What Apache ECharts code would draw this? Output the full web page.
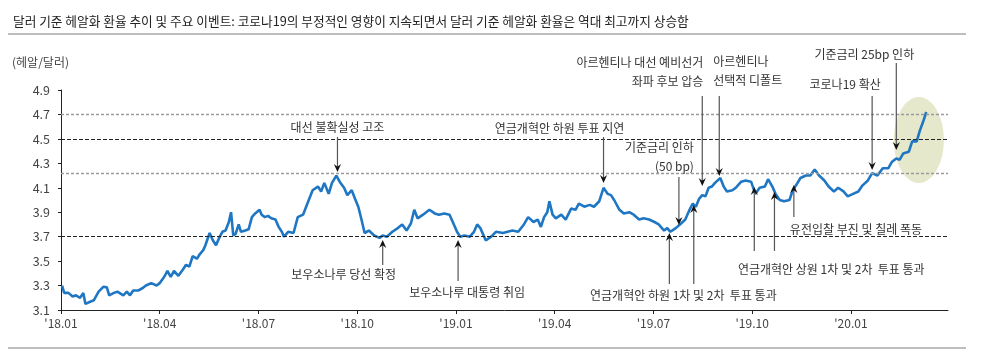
<!DOCTYPE html>
<html><head><meta charset="utf-8">
<script src="https://cdn.jsdelivr.net/npm/echarts@6/dist/echarts.min.js"></script>
<style>html,body{margin:0;padding:0;background:#fff}#c{width:1000px;height:356px}</style>
</head><body><div id="c"></div>
<script>
// ---- data ----
const titleText = '달러 기준 헤알화 환율 추이 및 주요 이벤트: 코로나19의 부정적인 영향이 지속되면서 달러 기준 헤알화 환율은 역대 최고까지 상승함';
const unitText = '(헤알/달러)';
const xTickLabels = ["'18.01","'18.04","'18.07","'18.10","'19.01","'19.04","'19.07","'19.10","'20.01"];
const xTickDates = ['2018-01-01','2018-04-01','2018-07-01','2018-10-01','2019-01-01','2019-04-01','2019-07-01','2019-10-01','2020-01-01'];
const dates = ['2018-01-02','2018-01-04','2018-01-08','2018-01-12','2018-01-15','2018-01-19','2018-01-22','2018-01-24','2018-01-29','2018-02-01','2018-02-05','2018-02-09','2018-02-12','2018-02-14','2018-02-18','2018-02-21','2018-02-26','2018-03-01','2018-03-04','2018-03-07','2018-03-12','2018-03-16','2018-03-19','2018-03-24','2018-03-29','2018-04-01','2018-04-05','2018-04-08','2018-04-11','2018-04-14','2018-04-18','2018-04-22','2018-04-25','2018-04-28','2018-05-01','2018-05-05','2018-05-08','2018-05-11','2018-05-13','2018-05-17','2018-05-20','2018-05-23','2018-05-26','2018-05-29','2018-06-01','2018-06-04','2018-06-06','2018-06-08','2018-06-10','2018-06-13','2018-06-15','2018-06-19','2018-06-22','2018-06-25','2018-06-28','2018-07-02','2018-07-04','2018-07-07','2018-07-10','2018-07-13','2018-07-17','2018-07-20','2018-07-23','2018-07-25','2018-07-29','2018-08-03','2018-08-07','2018-08-12','2018-08-16','2018-08-21','2018-08-26','2018-08-29','2018-09-01','2018-09-05','2018-09-08','2018-09-12','2018-09-15','2018-09-19','2018-09-22','2018-09-26','2018-09-29','2018-10-02','2018-10-05','2018-10-08','2018-10-12','2018-10-17','2018-10-22','2018-10-25','2018-10-29','2018-11-03','2018-11-08','2018-11-12','2018-11-16','2018-11-20','2018-11-23','2018-11-26','2018-12-01','2018-12-07','2018-12-12','2018-12-16','2018-12-21','2018-12-26','2018-12-29','2019-01-02','2019-01-05','2019-01-09','2019-01-14','2019-01-18','2019-01-21','2019-01-24','2019-01-29','2019-02-03','2019-02-07','2019-02-13','2019-02-21','2019-02-26','2019-03-03','2019-03-07','2019-03-12','2019-03-16','2019-03-19','2019-03-22','2019-03-25','2019-03-27','2019-03-30','2019-04-02','2019-04-07','2019-04-11','2019-04-16','2019-04-20','2019-04-23','2019-04-28','2019-05-03','2019-05-07','2019-05-12','2019-05-16','2019-05-20','2019-05-23','2019-05-26','2019-05-31','2019-06-04','2019-06-09','2019-06-13','2019-06-18','2019-06-22','2019-06-27','2019-07-02','2019-07-06','2019-07-11','2019-07-14','2019-07-17','2019-07-22','2019-07-26','2019-07-31','2019-08-04','2019-08-07','2019-08-10','2019-08-13','2019-08-16','2019-08-19','2019-08-22','2019-08-25','2019-08-28','2019-09-02','2019-09-05','2019-09-08','2019-09-13','2019-09-16','2019-09-21','2019-09-25','2019-09-30','2019-10-04','2019-10-08','2019-10-13','2019-10-16','2019-10-20','2019-10-23','2019-10-27','2019-10-31','2019-11-05','2019-11-08','2019-11-11','2019-11-15','2019-11-20','2019-11-24','2019-11-28','2019-12-02','2019-12-07','2019-12-11','2019-12-16','2019-12-20','2019-12-25','2019-12-29','2020-01-03','2020-01-08','2020-01-12','2020-01-17','2020-01-21','2020-01-26','2020-01-31','2020-02-05','2020-02-08','2020-02-12','2020-02-15','2020-02-18','2020-02-23','2020-02-26','2020-03-01','2020-03-04','2020-03-07','2020-03-10'];
const rates = [3.30,3.24,3.24,3.21,3.22,3.20,3.24,3.15,3.17,3.18,3.25,3.29,3.285,3.22,3.24,3.25,3.22,3.25,3.22,3.26,3.26,3.28,3.30,3.32,3.30,3.32,3.37,3.42,3.37,3.42,3.38,3.43,3.47,3.455,3.54,3.52,3.56,3.59,3.63,3.73,3.67,3.63,3.69,3.74,3.75,3.82,3.90,3.71,3.72,3.80,3.74,3.75,3.76,3.86,3.89,3.92,3.88,3.86,3.87,3.85,3.84,3.78,3.74,3.70,3.74,3.73,3.86,3.88,3.97,4.08,4.11,4.07,4.14,4.05,4.14,4.20,4.15,4.10,4.04,4.08,4.01,3.945,3.84,3.73,3.75,3.71,3.69,3.71,3.70,3.74,3.77,3.80,3.75,3.81,3.92,3.85,3.88,3.92,3.89,3.88,3.89,3.88,3.82,3.74,3.70,3.71,3.70,3.74,3.80,3.77,3.67,3.70,3.74,3.73,3.75,3.74,3.80,3.86,3.82,3.84,3.78,3.86,3.90,3.99,3.88,3.85,3.88,3.84,3.93,3.92,3.97,3.945,3.96,3.945,3.99,4.10,4.05,4.04,4.00,3.92,3.89,3.90,3.88,3.84,3.85,3.84,3.82,3.80,3.75,3.77,3.74,3.77,3.80,3.84,3.92,3.97,3.945,4.01,4.04,4.03,4.10,4.11,4.14,4.18,4.11,4.07,4.08,4.10,4.15,4.16,4.15,4.05,4.10,4.11,4.17,4.11,4.05,4.00,3.99,4.00,4.08,4.12,4.18,4.20,4.20,4.25,4.20,4.16,4.11,4.07,4.10,4.07,4.03,4.05,4.07,4.12,4.16,4.22,4.20,4.26,4.26,4.31,4.34,4.33,4.38,4.395,4.48,4.48,4.57,4.64,4.72];
// reference levels
const refBlack = [4.5, 3.7];
const refGray = [4.7, 4.22];
// events: text lines, date, arrow-tip value
const eventTexts = [
  ['대선 불확실성 고조'],
  ['보우소나루 당선 확정'],
  ['보우소나루 대통령 취임'],
  ['연금개혁안 하원 투표 지연'],
  ['기준금리 인하', '(50 bp)'],
  ['아르헨티나 대선 예비선거', '좌파 후보 압승'],
  ['아르헨티나', '선택적 디폴트'],
  ['기준금리 25bp 인하'],
  ['코로나19 확산'],
  ['연금개혁안 하원 1차 및 2차  투표 통과'],
  ['연금개혁안 상원 1차 및 2차  투표 통과'],
  ['유전입찰 부진 및 칠레 폭동']
];
const eventDates = [['2018-09-13'],['2018-10-25'],['2019-01-03'],['2019-05-16'],['2019-07-25'],['2019-08-16'],['2019-09-01'],['2020-02-12'],['2020-01-21'],['2019-07-16','2019-08-08'],['2019-10-03','2019-10-22'],['2019-11-09']];
const eventTips = [[4.229],[3.673],[3.673],[4.139],[3.796],[4.115],[4.197],[4.409],[4.246],[3.73,3.959],[4.107,4.066],[4.123]];
const highlightDate = '2020-03-03', highlightValue = 4.49;

// ---- layout (pixels) ----
// arrow lengths (positive = arrow points down), text offset from first arrow tail, align
const eventLayout = [
  {len:[35], dx:0, dy:-10, align:'center'},
  {len:[-25], dx:-39, dy:9, align:'center'},
  {len:[-41], dx:9, dy:11, align:'center'},
  {len:[46], dx:-44, dy:-9, align:'center'},
  {len:[48], dx:15, dy:-10, align:'right'},
  {len:[90], dx:1, dy:-15, align:'right'},
  {len:[80], dx:-6, dy:-15, align:'left'},
  {len:[87], dx:-32, dy:-9, align:'center'},
  {len:[74], dx:-27, dy:-11, align:'center'},
  {len:[-51,-79], dx:14, dy:11, align:'center'},
  {len:[-64,-59], dx:77, dy:19, align:'center'},
  {len:[-32], dx:-4, dy:12, align:'left'}
];

function monthPos(s){const p=s.split('-').map(Number);const dim=new Date(p[0],p[1],0).getDate();return (p[0]-2018)*12+(p[1]-1)+(p[2]-1)/dim;}

const FONT = '"Noto Sans CJK KR", "Noto Sans", sans-serif';
const chart = echarts.init(document.getElementById('c'), null, {renderer:'canvas'});
const seriesData = dates.map((d,i)=>[monthPos(d), rates[i]]);
const tickVals = xTickDates.map(monthPos);

const markData = refBlack.map(v=>({yAxis:v, lineStyle:{color:'#222', type:[4,2], width:1}}))
  .concat(refGray.map(v=>({yAxis:v, lineStyle:{color:'#9a9a9a', type:[3,2], width:1.3}})));

chart.setOption({
  animation:false,
  title:{text:titleText, left:8, top:10, textStyle:{fontFamily:FONT, fontSize:12.7, fontWeight:'normal', color:'#222'}},
  grid:{left:61, right:52, top:90, bottom:46, containLabel:false},
  xAxis:{type:'value', min:0, max:26.95,
    axisLine:{lineStyle:{color:'#222', width:1}},
    axisTick:{customValues:tickVals, length:4, lineStyle:{color:'#222'}},
    axisLabel:{customValues:tickVals, margin:7, fontFamily:FONT, fontSize:12, color:'#444',
      formatter:(v)=>{const i=tickVals.findIndex(t=>Math.abs(t-v)<1e-6);return i>=0?xTickLabels[i]:'';}},
    splitLine:{show:false}},
  yAxis:{type:'value', min:3.1, max:4.9, interval:0.2,
    axisLine:{show:true, lineStyle:{color:'#222', width:1}},
    axisTick:{show:true, length:3, lineStyle:{color:'#222'}},
    axisLabel:{margin:11, fontFamily:FONT, fontSize:12.5, color:'#444', formatter:(v)=>v.toFixed(1)},
    splitLine:{show:false}},
  series:[{type:'line', data:seriesData, showSymbol:false, z:3,
    lineStyle:{color:'#1f77c4', width:2.6}, 
    markLine:{silent:true, symbol:'none', label:{show:false}, data:markData}}]
});

function px(d, v){return chart.convertToPixel({seriesIndex:0}, [monthPos(d), v]);}
const g = [];
// highlight ellipse
const hc = px(highlightDate, highlightValue);
g.push({type:'ellipse', shape:{cx:hc[0], cy:hc[1], rx:25, ry:43}, style:{fill:'#e5e8cb'}, z:0, silent:true});
// separators
g.push({type:'line', shape:{x1:8, y1:34, x2:966, y2:34}, style:{stroke:'#a8a8a8', lineWidth:1.5}});
g.push({type:'line', shape:{x1:8, y1:348, x2:966, y2:348}, style:{stroke:'#a8a8a8', lineWidth:1.5}});
g.push({type:'text', left:12, top:56, style:{text:unitText, font:'12px '+FONT, fill:'#444'}});

eventTexts.forEach((lines, k)=>{
  const L = eventLayout[k];
  let tail0 = null;
  eventDates[k].forEach((d, j)=>{
    const tip = px(d, eventTips[k][j]);
    const len = L.len[j];
    const tx = tip[0], ty = tip[1] - len;
    if (j===0) tail0 = [tx, ty];
    const dir = len>0 ? 1 : -1; // 1 = pointing down
    const hl = 8, hw = 3.6;
    g.push({type:'line', shape:{x1:tx, y1:ty, x2:tip[0], y2:tip[1]-dir*hl*0.6}, style:{stroke:'#555', lineWidth:1.2}, z:10});
    g.push({type:'polygon', shape:{points:[[tip[0], tip[1]], [tip[0]-hw, tip[1]-dir*hl], [tip[0], tip[1]-dir*hl*0.65], [tip[0]+hw, tip[1]-dir*hl]]}, style:{fill:'#111'}, z:11});
  });
  const lh = 19;
  const n = lines.length;
  lines.forEach((t, i)=>{
    let y;
    if (L.dy < 0) y = tail0[1] + L.dy - (n-1-i)*lh; else y = tail0[1] + L.dy + i*lh;
    g.push({type:'text', x:tail0[0]+L.dx, y:y, style:{text:t, font:'12px '+FONT, fill:'#333', textAlign:L.align, textVerticalAlign:'middle'}, z:12});
  });
});
chart.setOption({graphic:g});
</script></body></html>
